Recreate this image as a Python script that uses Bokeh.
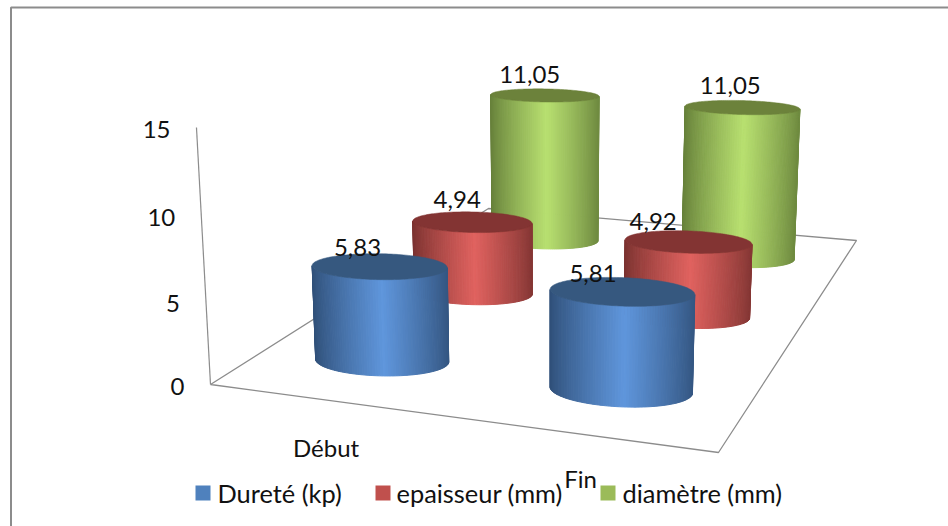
from bokeh.core.properties import value
from bokeh.embed import file_html
from bokeh.models import ColumnDataSource
from bokeh.plotting import figure
from bokeh.resources import INLINE
import numpy as np

categories = ["Début", "Fin"]
series_names = ["Dureté (kp)", "epaisseur (mm)", "diamètre (mm)"]
durete = [5.83, 5.81]
epaisseur = [4.94, 4.92]
diametre = [11.05, 11.05]
y_ticks = [0, 5, 10, 15]

FONT = value("Lato")
TEXT_COLOR = "#111111"
AXIS_COLOR = "#8c8c8c"

# side shading (edge, centre), top face and legend colour for each series
edge_colors = ["#2f4f78", "#7a3230", "#66803a"]
peak_colors = ["#5f96dc", "#e0625f", "#b8e070"]
top_colors = ["#36587f", "#833433", "#6c823b"]
legend_colors = ["#4f81bd", "#c0504d", "#9bbb59"]

# floor quad on screen: front-left, front-right, back-right, back-left
FL, FR, BR, BL = (210, 384), (718, 452), (856, 240), (488, 208)
den = (FR[0] - BR[0]) * (BL[1] - BR[1]) - (BL[0] - BR[0]) * (FR[1] - BR[1])
sx = FL[0] - FR[0] + BR[0] - BL[0]
sy = FL[1] - FR[1] + BR[1] - BL[1]
g = (sx * (BL[1] - BR[1]) - (BL[0] - BR[0]) * sy) / den
h = ((FR[0] - BR[0]) * sy - sx * (FR[1] - BR[1])) / den
# vertical direction: its vanishing point and the scale along the value axis
VP = (548, 6580)
Z_K = -0.002655


def project(u, v, z):
    """Perspective scale from (category, depth, value) to screen position."""
    w = 1 + g * u + h * v + Z_K * z
    x = (FR[0] - FL[0] + g * FR[0]) * u + (BL[0] - FL[0] + h * BL[0]) * v + FL[0] + Z_K * z * VP[0]
    y = (FR[1] - FL[1] + g * FR[1]) * u + (BL[1] - FL[1] + h * BL[1]) * v + FL[1] + Z_K * z * VP[1]
    return x / w, y / w


def mix(c0, c1, f):
    a = np.array([int(c0[i:i + 2], 16) for i in (1, 3, 5)], float)
    b = np.array([int(c1[i:i + 2], 16) for i in (1, 3, 5)], float)
    r, gr, bl = (a + (b - a) * f).round().astype(int)
    return f"#{r:02x}{gr:02x}{bl:02x}"


p = figure(width=948, height=526, x_range=(0, 948), y_range=(526, 0),
           min_border=0, outline_line_color=None, toolbar_location=None,
           output_backend="svg", background_fill_color="white")
p.axis.visible = False
p.grid.visible = False

# chart frame: only the top and left edges are visible
p.line([10.5, 10.5, 948], [526, 7, 7], line_color=AXIS_COLOR, line_width=2)

# floor outline and value axis
corners = [(0, 0), (1, 0), (1, 1), (0, 1), (0, 0)]
fx, fy = zip(*[project(a, b, 0) for a, b in corners])
p.line(list(fx), list(fy), line_color=AXIS_COLOR, line_width=1.3)
ax, ay = zip(*[project(0, 0, t) for t in (y_ticks[0], y_ticks[-1])])
p.line(list(ax), list(ay), line_color=AXIS_COLOR, line_width=1.2)

# cylinder footprint on the floor, in floor units
RU, RV, SKEW = 0.135, 0.062, 0.008
theta = np.linspace(0, 2 * np.pi, 161)[:-1]
table = [durete, epaisseur, diametre]


def centre(c, s):
    return 0.252 + 0.5 * c, (s + 0.5) / 3 - 0.004


# back row first so nearer cylinders cover farther ones
for s in (2, 1, 0):
    for c, val in enumerate(table[s]):
        uc, vc = centre(c, s)
        us = uc + RU * np.cos(theta)
        vs = vc + RV * np.sin(theta) + SKEW * np.cos(theta)
        bx, by = project(us, vs, 0)
        tx, ty = project(us, vs, val)
        i0, i1 = int(np.argmin(tx)), int(np.argmax(tx))
        idx = [(i0 + k) % 160 for k in range((i1 - i0) % 160 + 1)]
        xs, ys, colors = [], [], []
        for a, b in zip(idx[:-1], idx[1:]):
            xs.append([bx[a], bx[b], tx[b], tx[a]])
            ys.append([by[a], by[b], ty[b], ty[a]])
            t = ((tx[a] + tx[b]) / 2 - tx[i0]) / (tx[i1] - tx[i0])
            f = max(0.0, 1 - abs(t - 0.52) / 0.52) ** 0.85
            colors.append(mix(edge_colors[s], peak_colors[s], f))
        side = ColumnDataSource(dict(xs=xs, ys=ys, color=colors))
        p.patches("xs", "ys", source=side, fill_color="color", line_color="color", line_width=1)
        p.patch(list(tx), list(ty), fill_color=top_colors[s], line_color=top_colors[s], line_width=0.5)

# value labels, nudged off the top faces
label_dx = [[-22, -29], [-15, -35], [-15, -12]]
label_dy = [[-19, -18], [-22, -20], [-21, -22]]
lx, ly, lt, ldx, ldy = [], [], [], [], []
for s, row in enumerate(table):
    for c, val in enumerate(row):
        uc, vc = centre(c, s)
        x, y = project(uc, vc, val)
        lx.append(x)
        ly.append(y)
        lt.append(f"{val:.2f}".replace(".", ","))
        ldx.append(label_dx[s][c])
        ldy.append(label_dy[s][c])
p.text(lx, ly, text=lt, x_offset=ldx, y_offset=ldy, text_font=FONT, text_font_size="24px",
       text_color=TEXT_COLOR, text_align="center", text_baseline="middle")

# value axis tick labels
tx_, ty_ = zip(*[project(0, 0, t) for t in y_ticks])
p.text(list(tx_), list(ty_), text=[str(t) for t in y_ticks], x_offset=-26, y_offset=2,
       text_font=FONT, text_font_size="24px", text_color=TEXT_COLOR,
       text_align="right", text_baseline="middle")

# category labels under the front edge
cx_, cy_ = zip(*[project(0.25 + 0.5 * c, 0, 0) for c in range(len(categories))])
p.text(list(cx_), list(cy_), text=categories, x_offset=[-1, 0], y_offset=[47, 44],
       text_font=FONT, text_font_size="24px", text_color=TEXT_COLOR,
       text_align="center", text_baseline="middle")

# legend row
swatch_left = [195, 375, 600]
text_left = [217, 396, 622]
p.quad(left=swatch_left, right=[v + 15 for v in swatch_left], top=[485] * 3, bottom=[500] * 3,
       fill_color=legend_colors, line_color=None)
p.text(text_left, [492] * 3, text=series_names, text_font=FONT, text_font_size="25.4px",
       text_color=TEXT_COLOR, text_align="left", text_baseline="middle")

open("out.html", "w").write(file_html(p, INLINE))
